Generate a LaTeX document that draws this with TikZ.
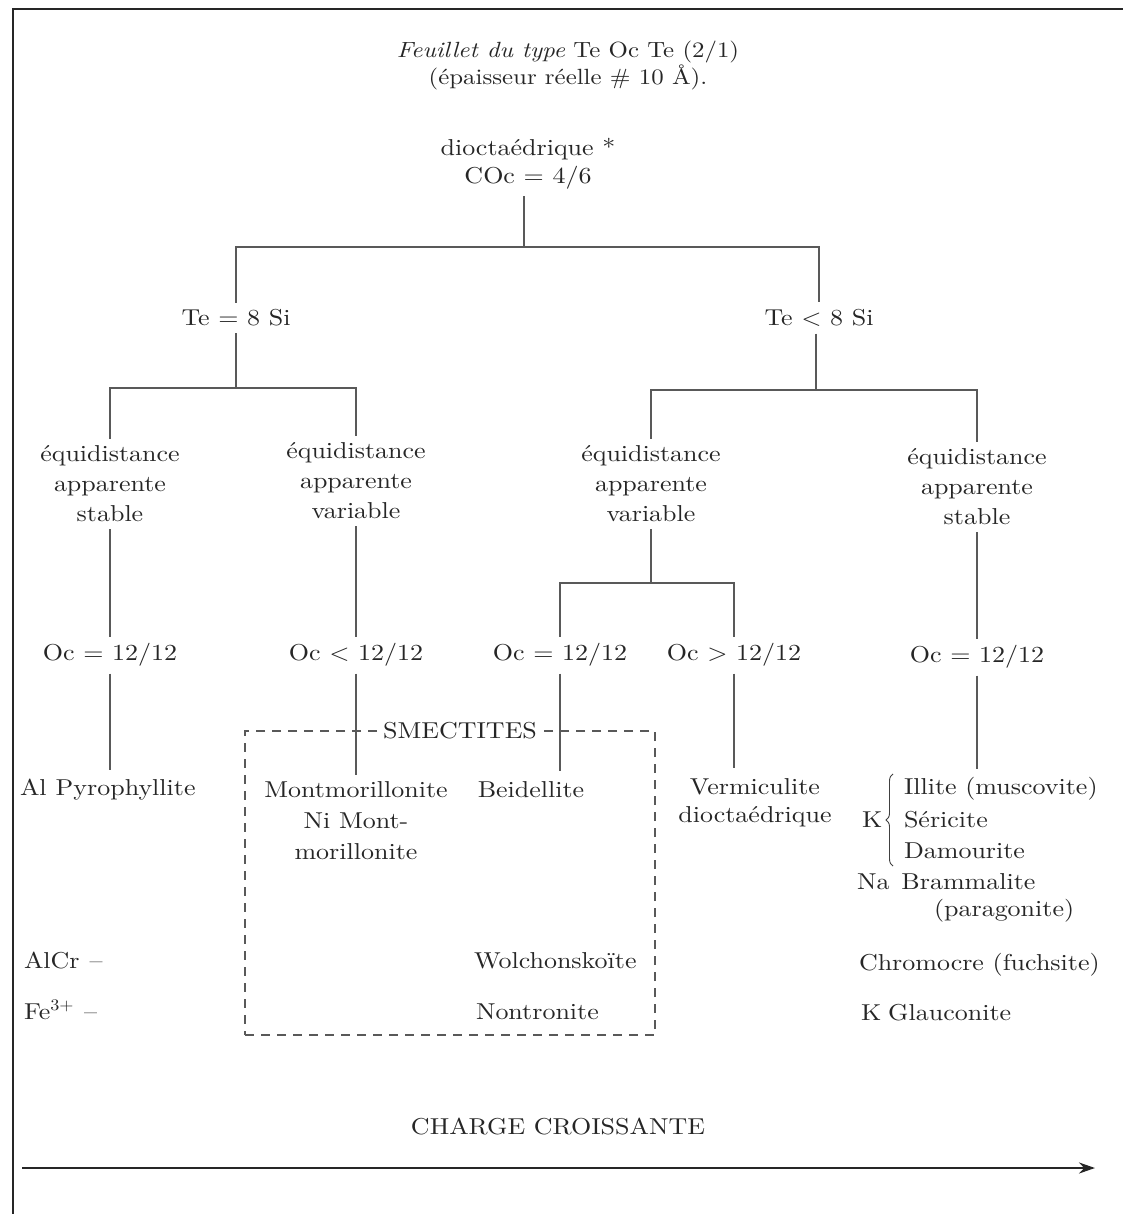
\documentclass[tikz,border=0pt]{standalone}
\usepackage{fontspec}
\setmainfont{lmroman10-regular.otf}[ItalicFont=lmroman10-italic.otf, FakeStretch=1.13]
\usetikzlibrary{arrows.meta,decorations.pathreplacing}
\begin{document}
\begin{tikzpicture}[x=1pt,y=-1pt,
  lbl/.style={font=\fontsize{23}{30}\selectfont, text=black!85, inner sep=2pt, outer sep=5pt, align=center},
  leaf/.style={font=\fontsize{23}{30}\selectfont, text=black!85, inner sep=0pt, outer sep=0pt, anchor=west},
  link/.style={draw=black!65, line width=1.1pt},
  dashbox/.style={draw=black!65, line width=1.1pt, dash pattern=on 9pt off 7pt}]
\useasboundingbox (0,0) rectangle (1123,1214);
% frame
\draw[line width=2pt, black!85] (1123,9) -- (13,9) -- (13,1214);
% title
\node[lbl, font=\fontsize{22}{27}\selectfont] (title) at (568,66) {\textit{Feuillet du type} Te Oc Te (2/1)\\(épaisseur réelle \# 10 Å).};
\node[lbl, font=\fontsize{23}{28}\selectfont] (dioc) at (528,164) {dioctaédrique *\\COc = 4/6};
% level 1
\node[lbl] (te8) at (236,318) {Te = 8 Si};
\node[lbl] (telt) at (819,318) {Te < 8 Si};
\coordinate (j1) at (524,247);
\draw[link] (j1 |- dioc.south) -- (j1);
\draw[link] (te8) |- (j1) -| (telt);
% level 2
\node[lbl] (eq1) at (110,484) {équidistance\\apparente\\stable};
\node[lbl] (eq2) at (356,481) {équidistance\\apparente\\variable};
\node[lbl] (eq3) at (651,484) {équidistance\\apparente\\variable};
\node[lbl] (eq4) at (977,487) {équidistance\\apparente\\stable};
\coordinate (j2) at (236,388);
\coordinate (j3) at (816,390);
\draw[link] (te8) -- (j2);
\draw[link] (eq1) |- (j2) -| (eq2);
\draw[link] (telt.south -| j3) -- (j3);
\draw[link] (eq3) |- (j3) -| (eq4);
% level 3
\node[lbl] (oc1) at (110,655) {Oc = 12/12};
\node[lbl] (oc2) at (356,655) {Oc < 12/12};
\node[lbl] (oc3) at (560,655) {Oc = 12/12};
\node[lbl] (oc4) at (734,655) {Oc > 12/12};
\node[lbl] (oc5) at (977,657) {Oc = 12/12};
\coordinate (j4) at (651,583);
\draw[link] (eq1) -- (oc1);
\draw[link] (eq2) -- (oc2);
\draw[link] (eq3) -- (j4);
\draw[link] (oc3) |- (j4) -| (oc4);
\draw[link] (eq4) -- (oc5);
% smectites box
\node[dashbox, minimum width=410pt, minimum height=304pt, inner sep=0pt] (box) at (450,883) {};
% leaves
\node[leaf] (pyro) at (20,790) {Al\hspace{9pt}Pyrophyllite};
\node[lbl, font=\fontsize{23}{31}\selectfont] (mont) at (356,821) {Montmorillonite\\Ni Mont-\\morillonite};
\node[lbl] (beid) at (531,790) {Beidellite};
\node[lbl, font=\fontsize{23}{28}\selectfont] (verm) at (755,803) {Vermiculite\\dioctaédrique};
\node[leaf] (k) at (862,820) {K};
\node[leaf] (ill) at (904,789) {Illite (muscovite)};
\node[leaf] (ser) at (904,820) {Séricite};
\node[leaf] (dam) at (904,851) {Damourite};
\node[leaf] (na) at (857,882) {Na\hspace{12pt}Brammalite};
\node[leaf] (par) at (934,911) {(paragonite)};
\node[leaf] (chr) at (859,965) {Chromocre (fuchsite)};
\node[leaf] (gla) at (861,1013) {K\hspace{7pt}Glauconite};
\node[leaf] (alcr) at (24,961) {AlCr\hspace{10pt}--};
\node[leaf] (fe) at (24,1010) {Fe\textsuperscript{3+}\hspace{10pt}--};
\node[leaf] (wol) at (474,961) {Wolchonskoïte};
\node[leaf] (non) at (476,1012) {Nontronite};
\draw[decorate, decoration={brace, amplitude=7pt}, line width=0.9pt, black!75] (893,866) -- (893,774);
% leaf connectors
\draw[link] (oc1) -- ([yshift=9pt]oc1 |- pyro.north);
\draw[link] (oc2) -- (mont);
\draw[link] (oc3) -- ([yshift=4pt]oc3 |- beid.north);
\draw[link] (oc4) -- ([yshift=4pt]oc4 |- verm.north);
\draw[link] (oc5) -- ([yshift=9pt]oc5 |- ill.north);
\node[lbl, fill=white, inner sep=1pt, outer sep=0pt] (smec) at ([xshift=10pt]box.north) {SMECTITES};
% charge
\node[lbl] (charge) at (558,1127) {CHARGE CROISSANTE};
\coordinate (ast) at (22,1168);
\coordinate (aen) at (1095,1168);
\draw[line width=2.5pt, black!85, -{Stealth[length=16pt,width=11pt]}] (ast) -- (aen);
\end{tikzpicture}
\end{document}
